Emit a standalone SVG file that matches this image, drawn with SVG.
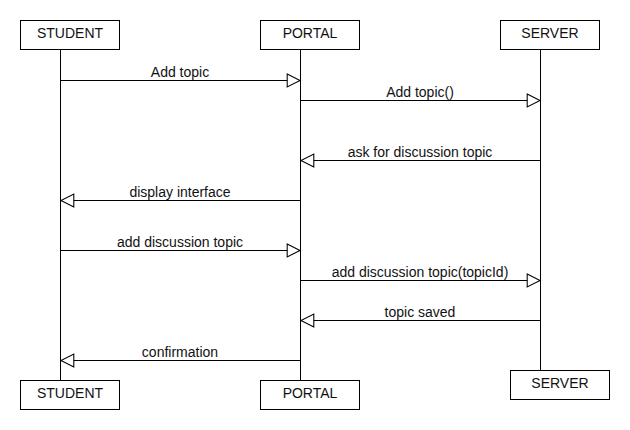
<svg xmlns="http://www.w3.org/2000/svg" width="630" height="430" viewBox="0 0 630 430">
<style>
  .box { fill: #fff; stroke: #000; stroke-width: 1; }
  .life { stroke: #000; stroke-width: 1; fill: none; }
  .msg { stroke: #000; stroke-width: 1; fill: none; marker-end: url(#tri); }
  text { font-family: "Liberation Sans", Arial, sans-serif; font-size: 14px; fill: #111; text-anchor: middle; }
</style>
<defs>
  <marker id="tri" markerUnits="userSpaceOnUse" markerWidth="16" markerHeight="16" viewBox="-1 -1 15 14" refX="12" refY="6" orient="auto">
    <path d="M0,0 L12,6 L0,12 Z" fill="#fff" stroke="#000" stroke-width="1"/>
  </marker>
</defs>
<rect width="630" height="430" fill="#fff"/>
<g id="lifelines">
  <line class="life" x1="60.5" y1="50" x2="60.5" y2="380"/>
  <line class="life" x1="300.5" y1="50" x2="300.5" y2="380"/>
  <line class="life" x1="540.5" y1="50" x2="540.5" y2="370"/>
</g>
<g id="student-top"><rect class="box" x="20.5" y="20.5" width="99" height="29"/><text x="70" y="37.5">STUDENT</text></g>
<g id="portal-top"><rect class="box" x="260.5" y="20.5" width="99" height="29"/><text x="310" y="37.5">PORTAL</text></g>
<g id="server-top"><rect class="box" x="500.5" y="20.5" width="99" height="29"/><text x="550" y="37.5">SERVER</text></g>
<g id="student-bottom"><rect class="box" x="20.5" y="380.5" width="99" height="29"/><text x="70" y="397.5">STUDENT</text></g>
<g id="portal-bottom"><rect class="box" x="260.5" y="380.5" width="99" height="29"/><text x="310" y="397.5">PORTAL</text></g>
<g id="server-bottom"><rect class="box" x="510.5" y="370.5" width="99" height="29"/><text x="560" y="387.5">SERVER</text></g>
<g id="connectors">
  <line class="msg" x1="60.5" y1="80.5" x2="300" y2="80.5"/>
  <text x="180" y="77">Add topic</text>
  <line class="msg" x1="300.5" y1="100.5" x2="540" y2="100.5"/>
  <text x="420" y="97">Add topic()</text>
  <line class="msg" x1="540.5" y1="160.5" x2="301" y2="160.5"/>
  <text x="420" y="157">ask for discussion topic</text>
  <line class="msg" x1="300.5" y1="200.5" x2="61" y2="200.5"/>
  <text x="180" y="197">display interface</text>
  <line class="msg" x1="60.5" y1="250.5" x2="300" y2="250.5"/>
  <text x="180" y="247">add discussion topic</text>
  <line class="msg" x1="300.5" y1="280.5" x2="540" y2="280.5"/>
  <text x="420" y="277">add discussion topic(topicId)</text>
  <line class="msg" x1="540.5" y1="320.5" x2="301" y2="320.5"/>
  <text x="420" y="317">topic saved</text>
  <line class="msg" x1="300.5" y1="360.5" x2="61" y2="360.5"/>
  <text x="180" y="357">confirmation</text>
</g>
</svg>
